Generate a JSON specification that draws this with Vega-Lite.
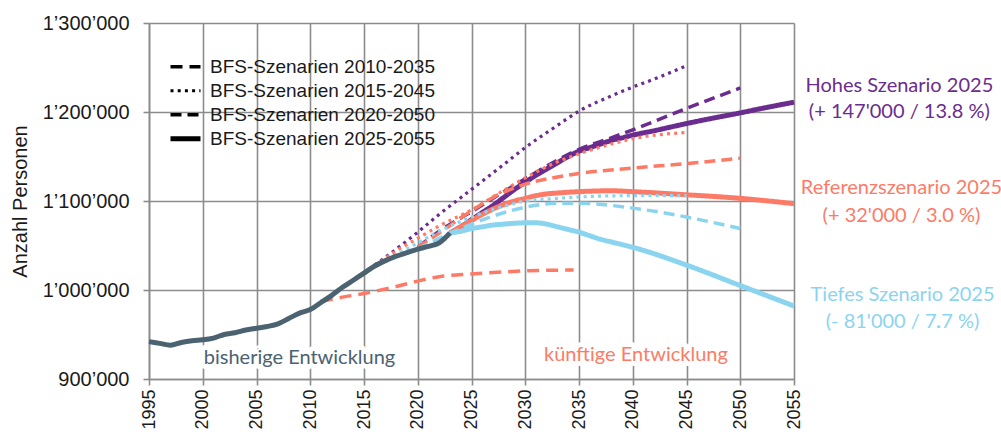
{
  "$schema": "https://vega.github.io/schema/vega-lite/v6.json",
  "width": 645,
  "height": 356,
  "autosize": {"type": "none"},
  "padding": {"left": 149, "top": 23, "right": 207, "bottom": 56},
  "background": "white",
  "datasets": {
    "hist": [
      {"jahr": 1995, "wert": 942000}, {"jahr": 1996, "wert": 940000}, {"jahr": 1997, "wert": 938000},
      {"jahr": 1998, "wert": 941000}, {"jahr": 1999, "wert": 943000}, {"jahr": 2000, "wert": 944000},
      {"jahr": 2001, "wert": 946000}, {"jahr": 2002, "wert": 950000}, {"jahr": 2003, "wert": 952000},
      {"jahr": 2004, "wert": 955000}, {"jahr": 2005, "wert": 957000}, {"jahr": 2006, "wert": 959000},
      {"jahr": 2007, "wert": 962000}, {"jahr": 2008, "wert": 968000}, {"jahr": 2009, "wert": 974000},
      {"jahr": 2010, "wert": 978000}, {"jahr": 2011, "wert": 986000}, {"jahr": 2012, "wert": 994000},
      {"jahr": 2013, "wert": 1003000}, {"jahr": 2014, "wert": 1011000}, {"jahr": 2015, "wert": 1019000},
      {"jahr": 2016, "wert": 1027000}, {"jahr": 2017, "wert": 1033000}, {"jahr": 2018, "wert": 1038000},
      {"jahr": 2019, "wert": 1042000}, {"jahr": 2020, "wert": 1046000}, {"jahr": 2021, "wert": 1049000},
      {"jahr": 2022, "wert": 1053000}, {"jahr": 2023, "wert": 1064000}
    ],
    "scen": [
      {"szenario": "2025-2055", "variante": "hoch", "jahr": 2023, "wert": 1064000},
      {"szenario": "2025-2055", "variante": "hoch", "jahr": 2024, "wert": 1071000},
      {"szenario": "2025-2055", "variante": "hoch", "jahr": 2025, "wert": 1079000},
      {"szenario": "2025-2055", "variante": "hoch", "jahr": 2026, "wert": 1087000},
      {"szenario": "2025-2055", "variante": "hoch", "jahr": 2027, "wert": 1095000},
      {"szenario": "2025-2055", "variante": "hoch", "jahr": 2028, "wert": 1104000},
      {"szenario": "2025-2055", "variante": "hoch", "jahr": 2029, "wert": 1113000},
      {"szenario": "2025-2055", "variante": "hoch", "jahr": 2030, "wert": 1121000},
      {"szenario": "2025-2055", "variante": "hoch", "jahr": 2031, "wert": 1129000},
      {"szenario": "2025-2055", "variante": "hoch", "jahr": 2032, "wert": 1136000},
      {"szenario": "2025-2055", "variante": "hoch", "jahr": 2033, "wert": 1143000},
      {"szenario": "2025-2055", "variante": "hoch", "jahr": 2034, "wert": 1150000},
      {"szenario": "2025-2055", "variante": "hoch", "jahr": 2035, "wert": 1156000},
      {"szenario": "2025-2055", "variante": "hoch", "jahr": 2036, "wert": 1160000},
      {"szenario": "2025-2055", "variante": "hoch", "jahr": 2037, "wert": 1164000},
      {"szenario": "2025-2055", "variante": "hoch", "jahr": 2038, "wert": 1168000},
      {"szenario": "2025-2055", "variante": "hoch", "jahr": 2039, "wert": 1171000},
      {"szenario": "2025-2055", "variante": "hoch", "jahr": 2040, "wert": 1174000},
      {"szenario": "2025-2055", "variante": "hoch", "jahr": 2042, "wert": 1179000},
      {"szenario": "2025-2055", "variante": "hoch", "jahr": 2045, "wert": 1187000},
      {"szenario": "2025-2055", "variante": "hoch", "jahr": 2047, "wert": 1192000},
      {"szenario": "2025-2055", "variante": "hoch", "jahr": 2050, "wert": 1199000},
      {"szenario": "2025-2055", "variante": "hoch", "jahr": 2052, "wert": 1204000},
      {"szenario": "2025-2055", "variante": "hoch", "jahr": 2055, "wert": 1211000},

      {"szenario": "2025-2055", "variante": "referenz", "jahr": 2023, "wert": 1064000},
      {"szenario": "2025-2055", "variante": "referenz", "jahr": 2024, "wert": 1071000},
      {"szenario": "2025-2055", "variante": "referenz", "jahr": 2025, "wert": 1078000},
      {"szenario": "2025-2055", "variante": "referenz", "jahr": 2026, "wert": 1085000},
      {"szenario": "2025-2055", "variante": "referenz", "jahr": 2027, "wert": 1091000},
      {"szenario": "2025-2055", "variante": "referenz", "jahr": 2028, "wert": 1096000},
      {"szenario": "2025-2055", "variante": "referenz", "jahr": 2029, "wert": 1100000},
      {"szenario": "2025-2055", "variante": "referenz", "jahr": 2030, "wert": 1103000},
      {"szenario": "2025-2055", "variante": "referenz", "jahr": 2031, "wert": 1106000},
      {"szenario": "2025-2055", "variante": "referenz", "jahr": 2032, "wert": 1108000},
      {"szenario": "2025-2055", "variante": "referenz", "jahr": 2033, "wert": 1109000},
      {"szenario": "2025-2055", "variante": "referenz", "jahr": 2035, "wert": 1110500},
      {"szenario": "2025-2055", "variante": "referenz", "jahr": 2038, "wert": 1111500},
      {"szenario": "2025-2055", "variante": "referenz", "jahr": 2040, "wert": 1110500},
      {"szenario": "2025-2055", "variante": "referenz", "jahr": 2045, "wert": 1107000},
      {"szenario": "2025-2055", "variante": "referenz", "jahr": 2050, "wert": 1103000},
      {"szenario": "2025-2055", "variante": "referenz", "jahr": 2055, "wert": 1097000},

      {"szenario": "2025-2055", "variante": "tief", "jahr": 2023, "wert": 1064000},
      {"szenario": "2025-2055", "variante": "tief", "jahr": 2024, "wert": 1066000},
      {"szenario": "2025-2055", "variante": "tief", "jahr": 2025, "wert": 1069000},
      {"szenario": "2025-2055", "variante": "tief", "jahr": 2026, "wert": 1071000},
      {"szenario": "2025-2055", "variante": "tief", "jahr": 2027, "wert": 1073000},
      {"szenario": "2025-2055", "variante": "tief", "jahr": 2028, "wert": 1074000},
      {"szenario": "2025-2055", "variante": "tief", "jahr": 2029, "wert": 1075000},
      {"szenario": "2025-2055", "variante": "tief", "jahr": 2030, "wert": 1075500},
      {"szenario": "2025-2055", "variante": "tief", "jahr": 2031, "wert": 1075500},
      {"szenario": "2025-2055", "variante": "tief", "jahr": 2032, "wert": 1074000},
      {"szenario": "2025-2055", "variante": "tief", "jahr": 2033, "wert": 1071000},
      {"szenario": "2025-2055", "variante": "tief", "jahr": 2034, "wert": 1068000},
      {"szenario": "2025-2055", "variante": "tief", "jahr": 2035, "wert": 1065000},
      {"szenario": "2025-2055", "variante": "tief", "jahr": 2036, "wert": 1061000},
      {"szenario": "2025-2055", "variante": "tief", "jahr": 2037, "wert": 1057000},
      {"szenario": "2025-2055", "variante": "tief", "jahr": 2038, "wert": 1054000},
      {"szenario": "2025-2055", "variante": "tief", "jahr": 2040, "wert": 1048000},
      {"szenario": "2025-2055", "variante": "tief", "jahr": 2045, "wert": 1028000},
      {"szenario": "2025-2055", "variante": "tief", "jahr": 2050, "wert": 1005000},
      {"szenario": "2025-2055", "variante": "tief", "jahr": 2055, "wert": 982000},

      {"szenario": "2010-2035", "variante": "referenz", "jahr": 2011, "wert": 987000},
      {"szenario": "2010-2035", "variante": "referenz", "jahr": 2013, "wert": 992000},
      {"szenario": "2010-2035", "variante": "referenz", "jahr": 2015, "wert": 996000},
      {"szenario": "2010-2035", "variante": "referenz", "jahr": 2018, "wert": 1004000},
      {"szenario": "2010-2035", "variante": "referenz", "jahr": 2020, "wert": 1010000},
      {"szenario": "2010-2035", "variante": "referenz", "jahr": 2022, "wert": 1015000},
      {"szenario": "2010-2035", "variante": "referenz", "jahr": 2025, "wert": 1018000},
      {"szenario": "2010-2035", "variante": "referenz", "jahr": 2030, "wert": 1021500},
      {"szenario": "2010-2035", "variante": "referenz", "jahr": 2034.5, "wert": 1022500},

      {"szenario": "2020-2050", "variante": "hoch", "jahr": 2020, "wert": 1048000},
      {"szenario": "2020-2050", "variante": "hoch", "jahr": 2022, "wert": 1066000},
      {"szenario": "2020-2050", "variante": "hoch", "jahr": 2024, "wert": 1081000},
      {"szenario": "2020-2050", "variante": "hoch", "jahr": 2025, "wert": 1088000},
      {"szenario": "2020-2050", "variante": "hoch", "jahr": 2027, "wert": 1103000},
      {"szenario": "2020-2050", "variante": "hoch", "jahr": 2030, "wert": 1125000},
      {"szenario": "2020-2050", "variante": "hoch", "jahr": 2033, "wert": 1146000},
      {"szenario": "2020-2050", "variante": "hoch", "jahr": 2035, "wert": 1158000},
      {"szenario": "2020-2050", "variante": "hoch", "jahr": 2038, "wert": 1171000},
      {"szenario": "2020-2050", "variante": "hoch", "jahr": 2040, "wert": 1180000},
      {"szenario": "2020-2050", "variante": "hoch", "jahr": 2045, "wert": 1204000},
      {"szenario": "2020-2050", "variante": "hoch", "jahr": 2050, "wert": 1227000},

      {"szenario": "2020-2050", "variante": "referenz", "jahr": 2020, "wert": 1048000},
      {"szenario": "2020-2050", "variante": "referenz", "jahr": 2022, "wert": 1064000},
      {"szenario": "2020-2050", "variante": "referenz", "jahr": 2024, "wert": 1081000},
      {"szenario": "2020-2050", "variante": "referenz", "jahr": 2025, "wert": 1089000},
      {"szenario": "2020-2050", "variante": "referenz", "jahr": 2027, "wert": 1104000},
      {"szenario": "2020-2050", "variante": "referenz", "jahr": 2030, "wert": 1119000},
      {"szenario": "2020-2050", "variante": "referenz", "jahr": 2033, "wert": 1127000},
      {"szenario": "2020-2050", "variante": "referenz", "jahr": 2035, "wert": 1131000},
      {"szenario": "2020-2050", "variante": "referenz", "jahr": 2040, "wert": 1137000},
      {"szenario": "2020-2050", "variante": "referenz", "jahr": 2045, "wert": 1142000},
      {"szenario": "2020-2050", "variante": "referenz", "jahr": 2050, "wert": 1148000},

      {"szenario": "2020-2050", "variante": "tief", "jahr": 2020, "wert": 1046000},
      {"szenario": "2020-2050", "variante": "tief", "jahr": 2022, "wert": 1058000},
      {"szenario": "2020-2050", "variante": "tief", "jahr": 2024, "wert": 1069000},
      {"szenario": "2020-2050", "variante": "tief", "jahr": 2025, "wert": 1074000},
      {"szenario": "2020-2050", "variante": "tief", "jahr": 2027, "wert": 1083000},
      {"szenario": "2020-2050", "variante": "tief", "jahr": 2030, "wert": 1093000},
      {"szenario": "2020-2050", "variante": "tief", "jahr": 2033, "wert": 1097500},
      {"szenario": "2020-2050", "variante": "tief", "jahr": 2035, "wert": 1097500},
      {"szenario": "2020-2050", "variante": "tief", "jahr": 2040, "wert": 1092000},
      {"szenario": "2020-2050", "variante": "tief", "jahr": 2045, "wert": 1082000},
      {"szenario": "2020-2050", "variante": "tief", "jahr": 2050, "wert": 1069000},

      {"szenario": "2015-2045", "variante": "hoch", "jahr": 2016, "wert": 1028000},
      {"szenario": "2015-2045", "variante": "hoch", "jahr": 2018, "wert": 1046000},
      {"szenario": "2015-2045", "variante": "hoch", "jahr": 2020, "wert": 1065000},
      {"szenario": "2015-2045", "variante": "hoch", "jahr": 2022, "wert": 1085000},
      {"szenario": "2015-2045", "variante": "hoch", "jahr": 2025, "wert": 1113000},
      {"szenario": "2015-2045", "variante": "hoch", "jahr": 2028, "wert": 1141000},
      {"szenario": "2015-2045", "variante": "hoch", "jahr": 2030, "wert": 1160000},
      {"szenario": "2015-2045", "variante": "hoch", "jahr": 2033, "wert": 1185000},
      {"szenario": "2015-2045", "variante": "hoch", "jahr": 2035, "wert": 1201000},
      {"szenario": "2015-2045", "variante": "hoch", "jahr": 2038, "wert": 1218000},
      {"szenario": "2015-2045", "variante": "hoch", "jahr": 2040, "wert": 1228000},
      {"szenario": "2015-2045", "variante": "hoch", "jahr": 2042, "wert": 1237000},
      {"szenario": "2015-2045", "variante": "hoch", "jahr": 2045, "wert": 1252000},

      {"szenario": "2015-2045", "variante": "referenz", "jahr": 2016, "wert": 1027000},
      {"szenario": "2015-2045", "variante": "referenz", "jahr": 2018, "wert": 1044000},
      {"szenario": "2015-2045", "variante": "referenz", "jahr": 2020, "wert": 1058000},
      {"szenario": "2015-2045", "variante": "referenz", "jahr": 2022, "wert": 1072000},
      {"szenario": "2015-2045", "variante": "referenz", "jahr": 2025, "wert": 1090000},
      {"szenario": "2015-2045", "variante": "referenz", "jahr": 2028, "wert": 1112000},
      {"szenario": "2015-2045", "variante": "referenz", "jahr": 2030, "wert": 1126000},
      {"szenario": "2015-2045", "variante": "referenz", "jahr": 2033, "wert": 1144000},
      {"szenario": "2015-2045", "variante": "referenz", "jahr": 2035, "wert": 1153000},
      {"szenario": "2015-2045", "variante": "referenz", "jahr": 2038, "wert": 1164000},
      {"szenario": "2015-2045", "variante": "referenz", "jahr": 2040, "wert": 1170000},
      {"szenario": "2015-2045", "variante": "referenz", "jahr": 2045, "wert": 1177000},

      {"szenario": "2015-2045", "variante": "tief", "jahr": 2016, "wert": 1027000},
      {"szenario": "2015-2045", "variante": "tief", "jahr": 2018, "wert": 1040000},
      {"szenario": "2015-2045", "variante": "tief", "jahr": 2020, "wert": 1053000},
      {"szenario": "2015-2045", "variante": "tief", "jahr": 2022, "wert": 1066000},
      {"szenario": "2015-2045", "variante": "tief", "jahr": 2025, "wert": 1082000},
      {"szenario": "2015-2045", "variante": "tief", "jahr": 2028, "wert": 1094000},
      {"szenario": "2015-2045", "variante": "tief", "jahr": 2030, "wert": 1100000},
      {"szenario": "2015-2045", "variante": "tief", "jahr": 2033, "wert": 1103000},
      {"szenario": "2015-2045", "variante": "tief", "jahr": 2035, "wert": 1104500},
      {"szenario": "2015-2045", "variante": "tief", "jahr": 2040, "wert": 1106000},
      {"szenario": "2015-2045", "variante": "tief", "jahr": 2045, "wert": 1106000}
    ],
    "labels": [
      {"jahr": 2064.8, "wert": 1229000, "text": "Hohes Szenario 2025", "variante": "hoch"},
      {"jahr": 2064.8, "wert": 1200000, "text": "(+ 147'000 / 13.8 %)", "variante": "hoch"},
      {"jahr": 2065, "wert": 1114500, "text": "Referenzszenario 2025", "variante": "referenz"},
      {"jahr": 2065, "wert": 1083000, "text": "(+ 32'000 / 3.0 %)", "variante": "referenz"},
      {"jahr": 2065.1, "wert": 994500, "text": "Tiefes Szenario 2025", "variante": "tief"},
      {"jahr": 2065.1, "wert": 964000, "text": "(- 81'000 / 7.7 %)", "variante": "tief"},
      {"jahr": 2009, "wert": 923500, "text": "bisherige Entwicklung", "variante": "hist"},
      {"jahr": 2040.3, "wert": 927000, "text": "künftige Entwicklung", "variante": "referenz"}
    ]
  },
  "encoding": {
    "x": {
      "field": "jahr", "type": "quantitative",
      "scale": {"domain": [1995, 2055], "nice": false, "zero": false},
      "axis": {
        "values": [1995, 2000, 2005, 2010, 2015, 2020, 2025, 2030, 2035, 2040, 2045, 2050, 2055],
        "format": "d", "labelAngle": -90, "labelPadding": 4, "title": null, "labelFlush": false, "labelOverlap": false
      }
    },
    "y": {
      "field": "wert", "type": "quantitative",
      "scale": {"domain": [900000, 1300000], "nice": false, "zero": false},
      "axis": {
        "values": [900000, 1000000, 1100000, 1200000, 1300000],
        "format": ",d", "title": "Anzahl Personen", "labelPadding": 14, "titlePadding": 12,
        "labelFontSize": 20, "titleFontSize": 20,
        "labelFlush": false, "labelOverlap": false
      }
    }
  },
  "layer": [
    {
      "data": {"name": "scen"},
      "mark": {"type": "line", "interpolate": "monotone", "strokeCap": "butt"},
      "encoding": {
        "color": {
          "field": "variante", "type": "nominal",
          "scale": {"domain": ["hoch", "referenz", "tief", "hist"], "range": ["#6b2c8f", "#fd7b66", "#8bd4ef", "#4b6271"]},
          "legend": null
        },
        "strokeDash": {
          "field": "szenario", "type": "ordinal",
          "scale": {"type": "ordinal", "domain": ["2010-2035", "2015-2045", "2020-2050", "2025-2055"], "range": [[12, 7], [3, 4.2], [11, 6], [1, 0]]},
          "legend": {
            "orient": "none", "legendX": 19, "legendY": 32, "title": null,
            "symbolType": "stroke", "symbolStrokeColor": "black", "symbolSize": 900,
            "labelFont": "Liberation Sans", "labelFontSize": 19, "labelColor": "#1a1a1a", "labelLimit": 400,
            "labelOffset": 7, "rowPadding": 0, "padding": 0, "clipHeight": 23.5,
            "labelExpr": "'BFS-Szenarien ' + datum.label"
          }
        },
        "strokeWidth": {
          "field": "szenario", "type": "ordinal",
          "scale": {"type": "ordinal", "domain": ["2010-2035", "2015-2045", "2020-2050", "2025-2055"], "range": [3.5, 3.2, 3.5, 5]},
          "legend": {
            "orient": "none", "legendX": 19, "legendY": 32, "title": null,
            "symbolType": "stroke", "symbolStrokeColor": "black", "symbolSize": 900,
            "labelFont": "Liberation Sans", "labelFontSize": 19, "labelColor": "#1a1a1a", "labelLimit": 400,
            "labelOffset": 7, "rowPadding": 0, "padding": 0, "clipHeight": 23.5,
            "labelExpr": "'BFS-Szenarien ' + datum.label"
          }
        },
        "detail": {"field": "variante"}
      }
    },
    {
      "data": {"name": "hist"},
      "mark": {"type": "line", "interpolate": "monotone", "strokeWidth": 5, "color": "#4b6271"},
      "encoding": {}
    },
    {
      "data": {"name": "labels"},
      "mark": {"type": "text", "font": "Lato", "fontSize": 20, "align": "center", "baseline": "middle", "clip": false, "stroke": "white", "strokeWidth": 10, "strokeJoin": "round"},
      "encoding": {"text": {"field": "text"}}
    },
    {
      "data": {"name": "labels"},
      "mark": {"type": "text", "font": "Lato", "fontSize": 20, "align": "center", "baseline": "middle", "clip": false},
      "encoding": {
        "text": {"field": "text"},
        "color": {"field": "variante", "type": "nominal", "legend": null}
      }
    }
  ],
  "config": {
    "locale": {"number": {"decimal": ".", "thousands": "’", "grouping": [3], "currency": ["", ""]}},
    "view": {"stroke": null},
    "axis": {
      "gridColor": "#8c8c8c", "gridWidth": 1.6, "gridOpacity": 1,
      "domainColor": "#8c8c8c", "domainWidth": 1.6,
      "tickColor": "#8c8c8c", "tickWidth": 1.6, "tickSize": 6,
      "labelFont": "Liberation Sans", "labelFontSize": 18, "labelColor": "#1a1a1a",
      "titleFont": "Liberation Sans", "titleFontSize": 18, "titleFontWeight": "normal", "titleColor": "#1a1a1a"
    }
  }
}
